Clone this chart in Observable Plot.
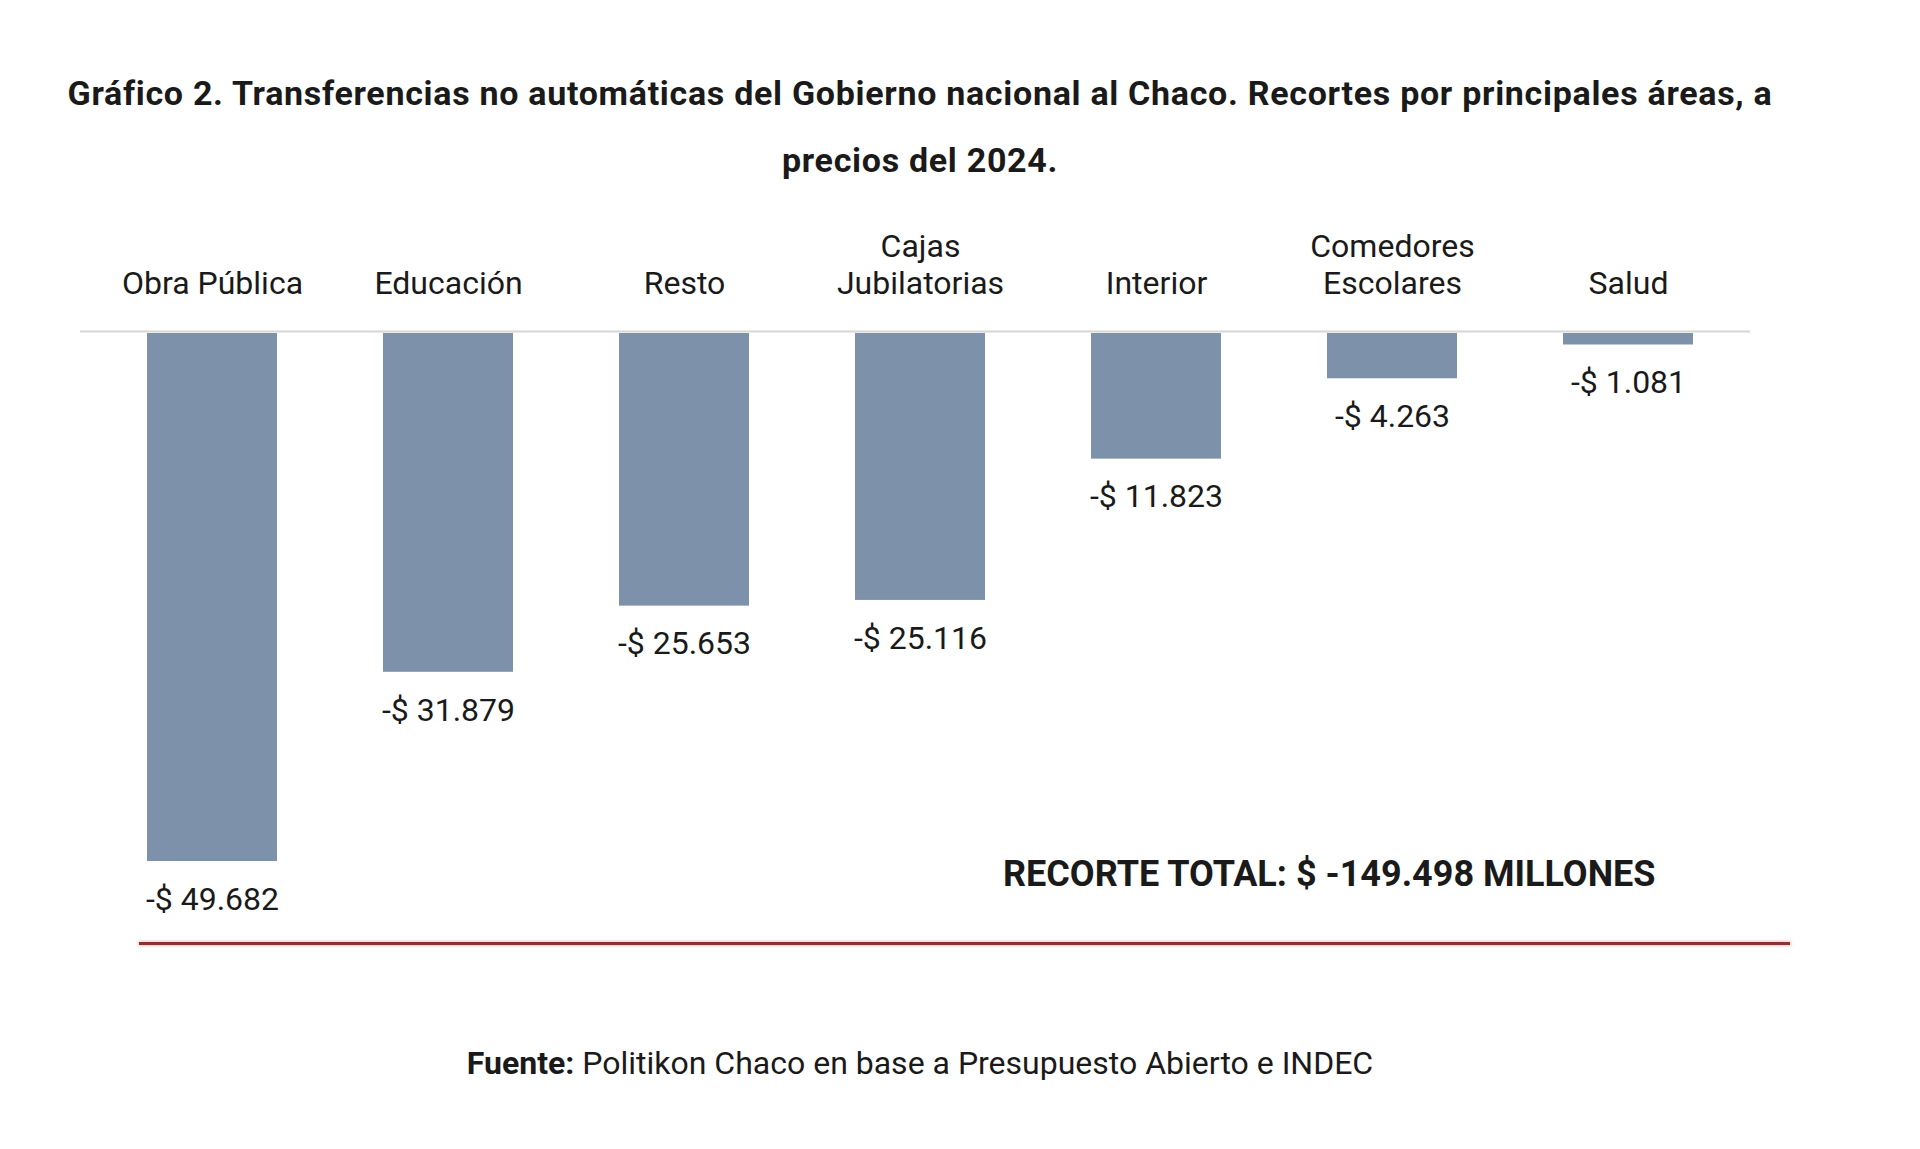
<!DOCTYPE html>
<html>
<head>
<meta charset="utf-8">
<script src="https://cdn.jsdelivr.net/npm/d3@7"></script>
<script src="https://cdn.jsdelivr.net/npm/@observablehq/plot@0.6"></script>
<style>
  html, body { margin: 0; padding: 0; background: #fff; }
  body { width: 1920px; height: 1149px; position: relative; overflow: hidden; font-family: Roboto, "Noto Sans", sans-serif; color: #1a1a1a; }
  #title { position: absolute; left: 0; top: 60px; width: 1840px; text-align: center; font-weight: 700; font-size: 34px; letter-spacing: 0.7px; line-height: 67px; color: #1a1a1a; }
  #chart { position: absolute; left: 0; top: 194px; }
  #redline { position: absolute; left: 139px; top: 942px; width: 1651px; height: 3px; background: #8a3434; box-shadow: 0 0 3px 1px #f6c2c2; }
  #source { position: absolute; left: 0; top: 1045px; width: 1840px; text-align: center; font-size: 32px; line-height: 36px; color: #1a1a1a; }
</style>
</head>
<body>
<div id="title">Gráfico 2. Transferencias no automáticas del Gobierno nacional al Chaco. Recortes por principales áreas, a<br>precios del 2024.</div>
<div id="chart"></div>
<div id="redline"></div>
<div id="source"><b>Fuente:</b> Politikon Chaco en base a Presupuesto Abierto e INDEC</div>
<script>
const categories = ["Obra Pública", "Educación", "Resto", "Cajas Jubilatorias", "Interior", "Comedores Escolares", "Salud"];
const tickLabels = ["Obra Pública", "Educación", "Resto", "Cajas\nJubilatorias", "Interior", "Comedores\nEscolares", "Salud"];
const values = [-49682, -31879, -25653, -25116, -11823, -4263, -1081];
const totalCut = -149498;

const locale = d3.formatLocale({decimal: ",", thousands: ".", grouping: [3], currency: ["$", ""], minus: "-"});
const fmtNum = locale.format(",");
const fmtLabel = v => (v < 0 ? "-" : "") + "$ " + fmtNum(Math.abs(v));

const data = categories.map((c, i) => ({category: c, value: values[i], tick: tickLabels[i]}));
const tickMap = new Map(data.map(d => [d.category, d.tick]));

const chart = Plot.plot({
  width: 1920,
  height: 790,
  marginTop: 139,
  marginLeft: 80,
  marginRight: 170,
  marginBottom: 0,
  style: {fontFamily: "Roboto, 'Noto Sans', sans-serif", background: "transparent", color: "#1a1a1a"},
  x: {domain: categories, range: [91, 1749], paddingInner: 0.45, paddingOuter: 0.225, axis: null, label: null},
  y: {domain: [-50000, 0], range: [139 + 50000 * 528 / 49682, 139], axis: null, label: null},
  marks: [
    Plot.barY(data, {x: "category", y: "value", fill: "#7d91ab"}),
    Plot.ruleY([0], {stroke: "#d6d6d6", strokeWidth: 2, dy: -2}),
    Plot.axisX({anchor: "top", label: null, tickSize: 0, tickPadding: 40, fontSize: 32, lineHeight: 37 / 32, tickFormat: d => tickMap.get(d), fill: "#1a1a1a"}),
    Plot.text(data, {x: "category", y: "value", text: d => fmtLabel(d.value), dy: 38, fontSize: 32, fill: "#1a1a1a"}),
    Plot.text([totalCut], {frameAnchor: "bottom-right", text: d => "RECORTE TOTAL: $ " + fmtNum(d) + " MILLONES", textAnchor: "end", dx: -95, dy: -99, fontSize: 36, fontWeight: 700, fill: "#1a1a1a"})
  ]
});
document.getElementById("chart").appendChild(chart);
</script>
</body>
</html>
